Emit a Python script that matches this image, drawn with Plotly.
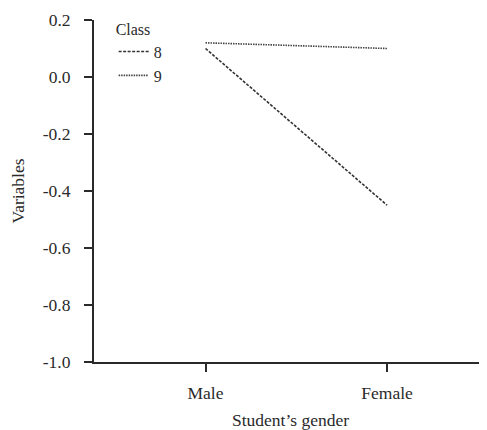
import plotly.graph_objects as go

genders = ["Male", "Female"]
class8 = [0.10, -0.45]
class9 = [0.12, 0.10]
y_ticks = [0.2, 0.0, -0.2, -0.4, -0.6, -0.8, -1.0]
y_tick_labels = ["0.2", "0.0", "-0.2", "-0.4", "-0.6", "-0.8", "-1.0"]

FONT = "Liberation Serif, Times New Roman, serif"
INK = "#2a2a2a"
FS = 17.5
LFS = 16

fig = go.Figure()
fig.add_trace(go.Scatter(x=[0, 1], y=class8, mode="lines", name="8",
                         line=dict(color="#333333", width=1.6, dash="3px,1.5px")))
fig.add_trace(go.Scatter(x=[0, 1], y=class9, mode="lines", name="9",
                         line=dict(color="#444444", width=1.6, dash="1.5px,1px")))

# page body has an 8px margin; figure is sized so that it fills the window
fig.update_layout(
    width=479, height=422,
    margin=dict(l=86, r=0, t=12, b=68, autoexpand=False),
    paper_bgcolor="white", plot_bgcolor="white",
    font=dict(family=FONT, size=FS, color=INK),
    showlegend=True,
    legend=dict(title=dict(text="Class", font=dict(size=LFS)),
                x=0.05, y=1.018, xanchor="left", yanchor="top",
                bgcolor="rgba(0,0,0,0)", font=dict(size=LFS),
                itemwidth=30, tracegroupgap=0),
    xaxis=dict(range=[-0.614, 1.55], tickmode="array", tickvals=[0, 1],
               ticktext=genders, showgrid=False, zeroline=False,
               showline=True, linecolor=INK, linewidth=2,
               ticks="outside", ticklen=8, tickwidth=2, tickcolor=INK,
               tickfont=dict(size=FS), automargin=False,
               title=dict(text="Student’s gender", standoff=22, font=dict(size=FS)),
               ticklabelstandoff=6),
    yaxis=dict(range=[-1.0, 0.2], tickmode="array", tickvals=y_ticks,
               ticktext=y_tick_labels, showgrid=False, zeroline=False,
               showline=True, linecolor=INK, linewidth=2,
               ticks="outside", ticklen=8, tickwidth=2, tickcolor=INK,
               tickfont=dict(size=FS), automargin=False,
               title=dict(text="Variables", standoff=16, font=dict(size=FS)),
               ticklabelstandoff=10),
)

fig.write_html("out.html")
